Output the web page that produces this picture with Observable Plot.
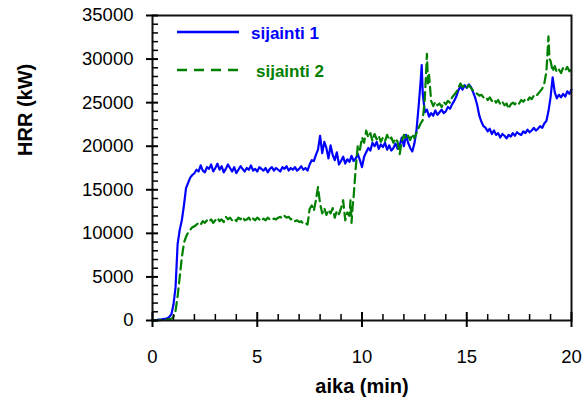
<!DOCTYPE html>
<html>
<head>
<meta charset="utf-8">
<script src="https://cdn.jsdelivr.net/npm/d3@7"></script>
<script src="https://cdn.jsdelivr.net/npm/@observablehq/plot@0.6"></script>
<style>
  html, body { margin: 0; padding: 0; background: #fff; }
  #chart { width: 586px; height: 409px; }
</style>
</head>
<body>
<div id="chart"></div>
<script>
// ---- data (time in min, HRR in kW) ----
const seriesNames = ["sijainti 1", "sijainti 2"];
const seriesColors = ["#0000ff", "#008000"];

const sijainti1 = [
  [0,0],[0.1,0],[0.2,50],[0.3,100],[0.4,100],[0.5,150],[0.6,200],[0.7,250],[0.8,400],[0.9,700],
  [1.0,1800],[1.1,3800],[1.2,8800],[1.3,10400],[1.4,11500],[1.5,13200],[1.6,15200],[1.7,15800],[1.8,16400],[1.9,16700],
  [2.0,16900],[2.1,17300],[2.2,17100],[2.3,17800],[2.4,17200],[2.5,17000],[2.6,17600],[2.7,17400],[2.8,17900],[2.9,17100],
  [3.0,17500],[3.1,18000],[3.2,17300],[3.3,17700],[3.4,17000],[3.5,17400],[3.6,17900],[3.7,17500],[3.8,17100],[3.9,17600],
  [4.0,16900],[4.1,17300],[4.2,17700],[4.3,17400],[4.4,17100],[4.5,17500],[4.6,17300],[4.7,17800],[4.8,17200],[4.9,17400],
  [5.0,17100],[5.1,17600],[5.2,17400],[5.3,17200],[5.4,17500],[5.5,17000],[5.6,17400],[5.7,17600],[5.8,17200],[5.9,17500],
  [6.0,17300],[6.1,17100],[6.2,17600],[6.3,17400],[6.4,17700],[6.5,17200],[6.6,17500],[6.7,17300],[6.8,17600],[6.9,17200],
  [7.0,17400],[7.1,17700],[7.2,17300],[7.3,17500],[7.4,17200],[7.5,17900],[7.6,18400],[7.7,18300],[7.8,19000],[7.9,19600],
  [8.0,21200],[8.1,19200],[8.2,20500],[8.3,19800],[8.4,18600],[8.5,20100],[8.6,19000],[8.7,18400],[8.8,19300],[8.9,17900],
  [9.0,18300],[9.1,18800],[9.2,18000],[9.3,18500],[9.4,18200],[9.5,18900],[9.6,18300],[9.7,18600],[9.8,19100],[9.9,18400],
  [10.0,17600],[10.1,18800],[10.2,19300],[10.3,19800],[10.4,19500],[10.5,20400],[10.6,20000],[10.7,20500],[10.8,19700],[10.9,20200],
  [11.0,19900],[11.1,20400],[11.2,19600],[11.3,20100],[11.4,19500],[11.5,19800],[11.6,20300],[11.7,19700],[11.8,20100],[11.9,21000],
  [12.0,20000],[12.1,21300],[12.2,20400],[12.3,19800],[12.4,19400],[12.5,20300],[12.6,21800],[12.7,24500],[12.8,27500],[12.85,29300],
  [12.9,26000],[13.0,23900],[13.1,24200],[13.2,23400],[13.3,23800],[13.4,23500],[13.5,24100],[13.6,23600],[13.7,23900],[13.8,24200],
  [13.9,23800],[14.0,24000],[14.1,24500],[14.2,24300],[14.3,24800],[14.4,25200],[14.5,25700],[14.6,26400],[14.7,26900],[14.8,26500],
  [14.9,27000],[15.0,26700],[15.1,27100],[15.2,26800],[15.3,26200],[15.4,25600],[15.5,24700],[15.6,23500],[15.7,22800],[15.8,22300],
  [15.9,22100],[16.0,21700],[16.1,22000],[16.2,21400],[16.3,21800],[16.4,21300],[16.5,21500],[16.6,21000],[16.7,21400],[16.8,21200],
  [16.9,20900],[17.0,21300],[17.1,21100],[17.2,21500],[17.3,21200],[17.4,21600],[17.5,21400],[17.6,21300],[17.7,21700],[17.8,21500],
  [17.9,21900],[18.0,21600],[18.1,21800],[18.2,22100],[18.3,21800],[18.4,22000],[18.5,22300],[18.6,22100],[18.7,22600],[18.8,22900],
  [18.9,24000],[19.0,25600],[19.1,27900],[19.2,26200],[19.3,25500],[19.4,25900],[19.5,25600],[19.6,26000],[19.7,25700],[19.8,26300],
  [19.9,26000],[20.0,26500]
];

const sijainti2 = [
  [0,0],[0.2,0],[0.4,50],[0.6,100],[0.8,150],[0.9,200],
  [1.0,400],[1.1,1100],[1.2,2800],[1.3,5000],[1.4,7200],[1.5,8900],[1.6,9600],[1.7,10100],[1.8,10400],[1.9,10700],
  [2.0,10800],[2.1,11000],[2.2,11200],[2.3,11000],[2.4,11400],[2.5,11200],[2.6,11500],[2.7,11300],[2.8,11600],[2.9,11200],
  [3.0,11500],[3.1,11800],[3.2,11400],[3.3,11600],[3.4,11300],[3.5,11900],[3.6,11600],[3.7,11800],[3.8,11500],[3.9,11700],
  [4.0,11400],[4.1,11800],[4.2,11600],[4.3,11900],[4.4,11500],[4.5,11600],[4.6,11800],[4.7,11400],[4.8,11700],[4.9,11500],
  [5.0,11800],[5.1,11600],[5.2,11400],[5.3,11700],[5.4,11500],[5.5,11800],[5.6,11600],[5.7,11500],[5.8,11700],[5.9,11600],
  [6.0,11800],[6.1,11900],[6.2,11700],[6.3,12000],[6.4,11800],[6.5,11900],[6.6,11600],[6.7,11700],[6.8,11400],[6.9,11500],
  [7.0,11300],[7.1,11400],[7.2,11100],[7.3,11200],[7.4,11000],[7.5,12800],[7.6,13200],[7.7,12600],[7.8,13800],[7.9,15300],
  [8.0,13400],[8.1,12300],[8.2,12900],[8.3,12100],[8.4,12700],[8.5,12300],[8.6,12900],[8.7,11800],[8.8,12600],[8.9,12200],
  [9.0,12900],[9.1,13800],[9.2,11500],[9.3,12400],[9.4,12000],[9.45,13800],[9.5,11200],[9.55,13000],[9.6,14200],[9.7,17500],
  [9.8,20100],[9.9,19600],[10.0,21000],[10.1,20400],[10.2,21800],[10.3,21000],[10.4,21500],[10.5,20600],[10.6,21400],[10.7,20800],
  [10.8,21200],[10.9,20500],[11.0,21000],[11.1,20600],[11.2,21300],[11.3,20700],[11.4,21000],[11.5,20400],[11.6,20900],[11.7,20500],
  [11.8,19100],[11.9,20600],[12.0,21300],[12.1,20800],[12.2,21200],[12.3,20700],[12.4,21400],[12.5,20900],[12.6,21500],[12.7,22100],
  [12.8,22600],[12.9,23000],[13.0,25500],[13.1,30600],[13.15,27200],[13.2,28200],[13.3,25200],[13.4,24600],[13.5,25100],[13.6,24700],
  [13.7,24900],[13.8,24500],[13.9,25100],[14.0,24800],[14.1,25200],[14.2,25000],[14.3,25600],[14.4,25900],[14.5,26200],[14.6,26700],
  [14.7,27200],[14.8,26800],[14.9,27000],[15.0,26700],[15.1,27000],[15.2,26700],[15.3,26400],[15.4,26200],[15.5,26000],[15.6,25800],
  [15.7,25900],[15.8,25600],[15.9,25700],[16.0,25300],[16.1,25600],[16.2,25200],[16.3,25400],[16.4,25000],[16.5,25300],[16.6,24800],
  [16.7,25100],[16.8,24700],[16.9,24900],[17.0,24300],[17.1,24800],[17.2,25000],[17.3,24800],[17.4,25100],[17.5,24900],[17.6,25300],
  [17.7,25100],[17.8,25400],[17.9,25200],[18.0,25600],[18.1,25400],[18.2,25800],[18.3,25700],[18.4,26000],[18.5,26300],[18.6,26600],
  [18.7,27200],[18.8,28500],[18.9,32600],[18.95,30000],[19.0,29800],[19.1,28600],[19.2,29200],[19.3,28500],[19.4,28800],[19.5,28400],
  [19.6,29000],[19.7,28700],[19.8,29100],[19.9,28600],[20.0,28900]
];

const xMajorTicks = [0, 5, 10, 15, 20];
const xMinorTicks = [1, 2, 3, 4, 6, 7, 8, 9, 11, 12, 13, 14, 16, 17, 18, 19];
const yMajorTicks = [0, 5000, 10000, 15000, 20000, 25000, 30000, 35000];
const yMinorTicks = [1000,2000,3000,4000,6000,7000,8000,9000,11000,12000,13000,14000,16000,17000,18000,19000,
                     21000,22000,23000,24000,26000,27000,28000,29000,31000,32000,33000,34000];
const xTitle = "aika (min)";
const yTitle = "HRR (kW)";

// ---- layout ----
const W = 586, H = 409;
const mL = 152, mR = 15, mT = 15, mB = 89;
const plotW = W - mL - mR, plotH = H - mT - mB;
const font = "'Liberation Sans', Arial, sans-serif";

const chart = Plot.plot({
  width: W, height: H,
  marginLeft: mL, marginRight: mR, marginTop: mT, marginBottom: mB,
  style: { fontFamily: font, background: "#fff", color: "#000", overflow: "visible" },
  x: { domain: [0, 20] },
  y: { domain: [0, 35000] },
  marks: [
    Plot.line(sijainti1, { x: d => d[0], y: d => d[1], stroke: seriesColors[0], strokeWidth: 2.2 }),
    Plot.line(sijainti2, { x: d => d[0], y: d => d[1], stroke: seriesColors[1], strokeWidth: 2.2, strokeDasharray: "9,5" }),
    Plot.frame({ stroke: "#111", strokeWidth: 2 }),
    // minor ticks (inward)
    Plot.ruleX(xMinorTicks, { x: d => d, stroke: "#000", strokeWidth: 1.5, insetTop: plotH - 6 }),
    Plot.ruleY(yMinorTicks, { y: d => d, stroke: "#000", strokeWidth: 1.5, insetRight: plotW - 6 }),
    // major ticks (crossing)
    Plot.ruleX(xMajorTicks, { x: d => d, stroke: "#000", strokeWidth: 2, insetTop: plotH - 8, insetBottom: -7 }),
    Plot.ruleY(yMajorTicks, { y: d => d, stroke: "#000", strokeWidth: 2, insetRight: plotW - 6, insetLeft: -6 }),
    Plot.axisX({ ticks: xMajorTicks, tickSize: 0, tickPadding: 29, tickFormat: d => String(d), fontSize: 18.5, label: null }),
    Plot.axisY({ ticks: yMajorTicks, tickSize: 0, tickPadding: 19, tickFormat: d => String(d), fontSize: 18.5, label: null }),
    Plot.text([xTitle], { text: d => d, frameAnchor: "bottom", dy: 72, fontSize: 20, fontWeight: "bold", fill: "#000" }),
    Plot.text([yTitle], { text: d => d, frameAnchor: "left", dx: -127, dy: -12, rotate: -90, fontSize: 20, fontWeight: "bold", fill: "#000" })
  ]
});

document.getElementById("chart").appendChild(chart);

// legend (inside plot area, top-left)
const svg = d3.select(chart);
const leg = svg.append("g").attr("font-family", font).attr("font-weight", "bold")
  .attr("font-size", 17).attr("text-anchor", "start");
const legendRows = [
  { name: seriesNames[0], color: seriesColors[0], y: 32, tx: 251, dash: null },
  { name: seriesNames[1], color: seriesColors[1], y: 70, tx: 256, dash: "10,7" }
];
legendRows.forEach(r => {
  leg.append("line").attr("x1", 177).attr("x2", 239).attr("y1", r.y).attr("y2", r.y)
    .attr("stroke", r.color).attr("stroke-width", 2.5).attr("stroke-dasharray", r.dash);
  leg.append("text").attr("x", r.tx).attr("y", r.y + 7).attr("text-anchor", "start")
    .attr("fill", r.color).text(r.name);
});
</script>
</body>
</html>
